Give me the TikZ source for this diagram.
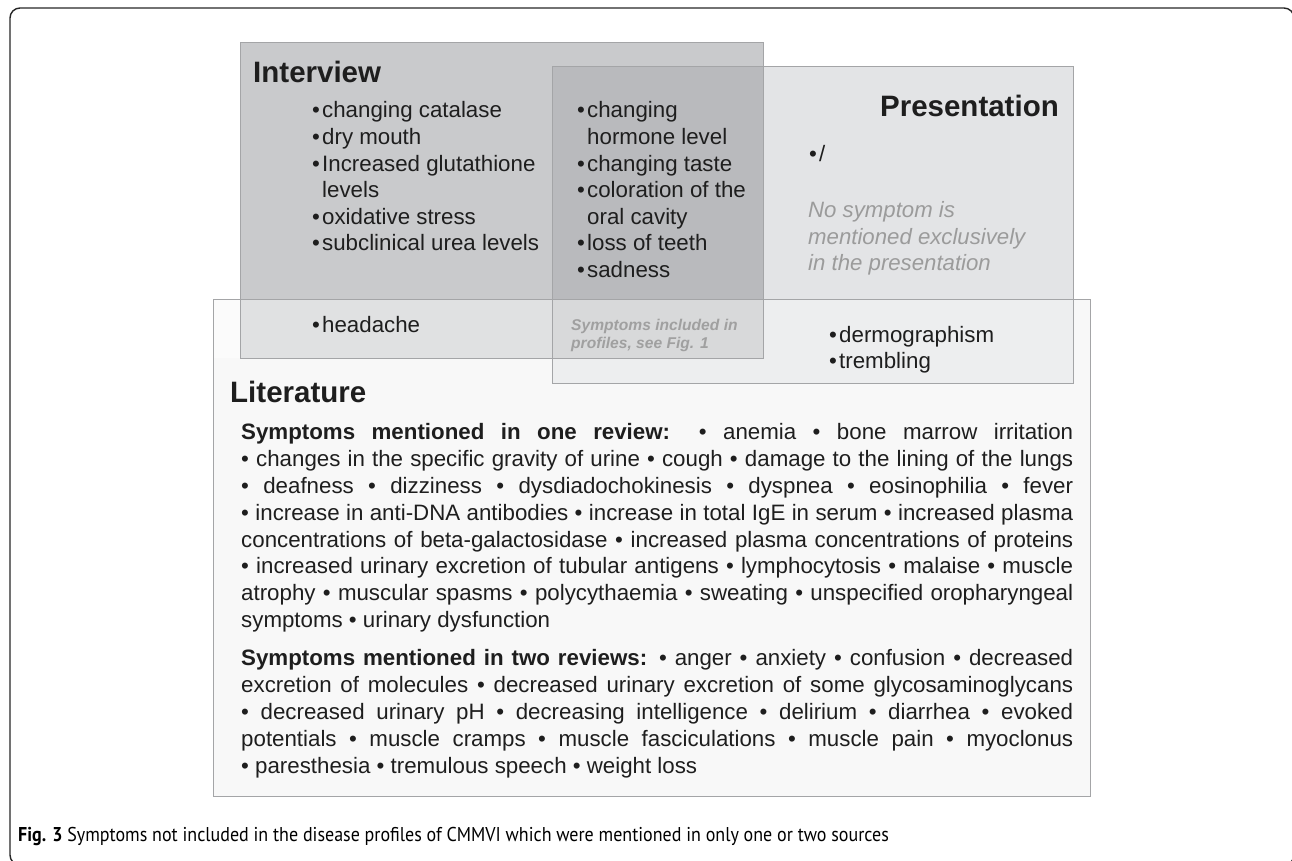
\documentclass[tikz,border=0pt]{standalone}
\usepackage{fontspec}
\setmainfont{Liberation Sans}
\newfontfamily\capfont{PT Sans}
\usetikzlibrary{positioning}

\definecolor{interviewgray}{HTML}{C9CACC}
\definecolor{bothgray}{HTML}{B9BABD}
\definecolor{presgray}{HTML}{E3E4E6}
\definecolor{litgray}{HTML}{F8F8F8}
\definecolor{edgegray}{HTML}{A4A5A7}
\definecolor{notegray}{HTML}{9B9B9B}
\definecolor{inkgray}{HTML}{1E1E1E}

% bullet with hanging indent
\newcommand{\bul}{\makebox[10pt][l]{\textbullet}}
\newcommand{\hang}{\hspace*{10pt}}

\begin{document}
\begin{tikzpicture}[
        x=1pt, y=-1pt,
        frame/.style={draw=black!85, line width=1.4pt, rounded corners=10pt},
        edge/.style={draw=edgegray, line width=0.9pt},
        heading/.style={font=\fontsize{29.5}{36}\selectfont\bfseries, text=inkgray, inner sep=0pt},
        itemtext/.style={font=\fontsize{22.3}{26.6}\selectfont, text=inkgray, inner sep=0pt, align=left},
        note/.style={font=\fontsize{22.2}{26.4}\selectfont\itshape, text=notegray, inner sep=0pt, align=left},
        smallnote/.style={font=\fontsize{15.6}{18.4}\selectfont\bfseries\itshape, text=notegray!95, inner sep=0pt, align=left},
        littext/.style={font=\fontsize{22.3}{26.8}\selectfont, text=inkgray, inner sep=0pt,
            text width=832pt, align=justify},
        caption/.style={font=\capfont\fontsize{20}{24}\selectfont, inner sep=0pt}
      ]
        \useasboundingbox (0,0) rectangle (1292,861);

        % outer frame
        \draw[frame] (10,8) rectangle (1294,865);

        % the three areas
        \fill[interviewgray] (240,42) rectangle (763,358);
        \fill[presgray] (552,66) rectangle (1073,383);
        \fill[bothgray] (552,66) rectangle (763,358);
        \fill[litgray, fill opacity=0.5] (213,299) rectangle (1090,796);
        \fill[litgray] (213,383) rectangle (1090,796);
        \fill[litgray] (1073,299) rectangle (1090,383);
        \fill[litgray] (213,358) rectangle (552,383);

        % borders
        \draw[edge] (240,42) rectangle (763,358);
        \draw[edge] (552,66) rectangle (1073,383);
        \draw[edge] (213,299) rectangle (1090,796);

        % headings
        \node[heading, anchor=base west] (interview) at (253,83) {Interview};
        \node[heading, anchor=base east] (presentation) at (1059,117) {Presentation};
        \node[heading, anchor=base west] (literature) at (230,402) {Literature};

        % interview only
        \node[itemtext, anchor=north west] (intlist) at (312,101.5) {%
            \bul changing catalase\\
            \bul dry mouth\\
            \bul Increased glutathione\\
            \hang levels\\
            \bul oxidative stress\\
            \bul subclinical urea levels};

        % interview and presentation
        \node[itemtext, anchor=north west] (bothlist) at (577,101.5) {%
            \bul changing\\
            \hang hormone level\\
            \bul changing taste\\
            \bul coloration of the\\
            \hang oral cavity\\
            \bul loss of teeth\\
            \bul sadness};

        % presentation only
        \node[itemtext, anchor=base west] (preslist) at (809,162) {\bul/};
        \node[note, anchor=north west] (presnote) at (808,201.5) {%
            No symptom is\\
            mentioned exclusively\\
            in the presentation};

        % interview and literature
        \node[itemtext, anchor=base west] (intlit) at (312,332) {\bul headache};

        % all three
        \node[smallnote, anchor=north west] (profiles) at (571,318.5) {%
            Symptoms included in\\
            profiles, see Fig. 1};

        % presentation and literature
        \node[itemtext, anchor=north west] (preslit) at (829,326) {%
            \bul dermographism\\
            \bul trembling};

        % literature only
        \node[littext, anchor=north west] (onereview) at (241,423.5) {%
            \tolerance=10000 \hyphenpenalty=10000 \exhyphenpenalty=10000
            \textbf{Symptoms mentioned in one review:} • anemia • bone marrow irritation\linebreak
            • changes in the specific gravity of urine • cough • damage to the lining of the lungs\linebreak
            • deafness • dizziness • dysdiadochokinesis • dyspnea • eosinophilia • fever\linebreak
            • increase in anti-DNA antibodies • increase in total IgE in serum • increased plasma\linebreak
            concentrations of beta-galactosidase • increased plasma concentrations of proteins\linebreak
            • increased urinary excretion of tubular antigens • lymphocytosis • malaise • muscle\linebreak
            atrophy • muscular spasms • polycythaemia • sweating • unspecified oropharyngeal\linebreak
            symptoms • urinary dysfunction};
        \node[littext, anchor=north west] (tworeviews) at (241,649.5) {%
            \tolerance=10000 \hyphenpenalty=10000 \exhyphenpenalty=10000
            \textbf{Symptoms mentioned in two reviews:} • anger • anxiety • confusion • decreased\linebreak
            excretion of molecules • decreased urinary excretion of some glycosaminoglycans\linebreak
            • decreased urinary pH • decreasing intelligence • delirium • diarrhea • evoked\linebreak
            potentials • muscle cramps • muscle fasciculations • muscle pain • myoclonus\linebreak
            • paresthesia • tremulous speech • weight loss};

        % figure caption
        \node[caption, anchor=base west] (figcap) at (18,841) {\scalebox{0.9}[1]{\textbf{Fig. 3} Symptoms not included in the disease profiles of CMMVI which were mentioned in only one or two sources}};
\end{tikzpicture}
\end{document}
